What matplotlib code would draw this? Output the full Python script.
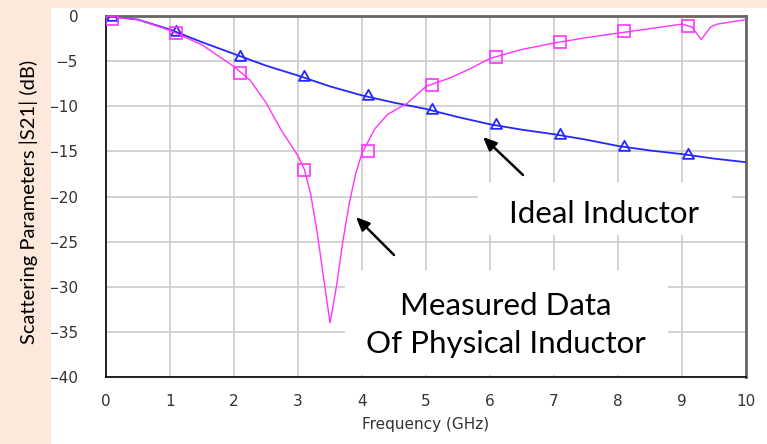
import matplotlib
matplotlib.use("Agg")
import matplotlib.pyplot as plt
from matplotlib.patches import Rectangle
from matplotlib.path import Path

W, H = 767, 444

# ── Data ──────────────────────────────────────────────────────────────────────
freq_ideal = [0, 0.5, 1.0, 1.5, 2.0, 2.5, 3.0, 3.5, 4.0, 4.5, 5.0,
              5.5, 6.0, 6.5, 7.0, 7.5, 8.0, 8.5, 9.0, 9.5, 10.0]
s21_ideal = [0, -0.4, -1.5, -2.9, -4.2, -5.5, -6.6, -7.8, -8.8, -9.6, -10.3,
             -11.2, -12.0, -12.6, -13.1, -13.7, -14.4, -14.9, -15.3, -15.8, -16.2]

freq_meas = [0, 0.5, 1.0, 1.5, 2.0, 2.25, 2.5, 2.75, 2.9, 3.0, 3.1, 3.2, 3.3,
             3.4, 3.5, 3.6, 3.7, 3.8, 3.9, 4.0, 4.2, 4.4, 4.7, 5.0, 5.4, 5.7,
             6.0, 6.5, 7.0, 7.5, 8.0, 8.5, 9.0, 9.15, 9.3, 9.45, 9.55, 10.0]
s21_meas = [0, -0.4, -1.6, -3.2, -5.6, -7.1, -9.6, -12.8, -14.4, -15.5, -17.0,
            -19.8, -24.0, -29.0, -34.0, -30.0, -25.0, -20.8, -17.5, -15.2,
            -12.5, -10.9, -9.7, -7.8, -6.8, -5.8, -4.7, -3.7, -3.0, -2.4,
            -1.9, -1.4, -0.9, -1.2, -2.6, -1.2, -0.9, -0.4]

mark_freq = [0.1, 1.1, 2.1, 3.1, 4.1, 5.1, 6.1, 7.1, 8.1, 9.1]
mark_ideal = [-0.1, -1.8, -4.5, -6.8, -8.9, -10.4, -12.1, -13.2, -14.5, -15.4]
mark_meas = [-0.3, -1.9, -6.3, -17.1, -15.0, -7.6, -4.5, -2.9, -1.7, -1.1]

xticks = list(range(0, 11))
yticks = list(range(0, -45, -5))

# ── Style ─────────────────────────────────────────────────────────────────────
PEACH = "#FCE9DC"
BLUE = "#2626FF"
MAGENTA = "#FF33FF"
GRID = "#CCCCCC"
TICKFONT = ["Liberation Sans Narrow", "DejaVu Sans"]
TEXTFONT = ["Lato", "DejaVu Sans"]


def fx(x, y):
    # pixel (top-left origin) -> figure fraction
    return (x / W, 1 - y / H)


fig = plt.figure(figsize=(W / 100, H / 100), dpi=100, facecolor="white")

# peach strips (left and top)
fig.patches.append(Rectangle((0, 0), 51 / W, 1, transform=fig.transFigure,
                             facecolor=PEACH, edgecolor="none", zorder=0))
fig.patches.append(Rectangle((0, 1 - 8 / H), 1, 8 / H, transform=fig.transFigure,
                             facecolor=PEACH, edgecolor="none", zorder=0))

ax = fig.add_axes([106 / W, 1 - 377 / H, 640 / W, 361 / H])
ax.set_facecolor("white")

# triangle marker with the data point at its centroid
tri = Path([(0, 2), (-1.65, -1), (1.65, -1), (0, 2)],
           [Path.MOVETO, Path.LINETO, Path.LINETO, Path.CLOSEPOLY])

ax.plot(freq_ideal, s21_ideal, color=BLUE, lw=1.3, zorder=3)
ax.plot(mark_freq, mark_ideal, ls="none", marker=tri, ms=9.6,
        mfc="none", mec=BLUE, mew=1.3, zorder=3)
ax.plot(freq_meas, s21_meas, color=MAGENTA, lw=1.0, zorder=3)
ax.plot(mark_freq, mark_meas, ls="none", marker="s", ms=8.4,
        mfc="none", mec=MAGENTA, mew=1.2, zorder=3)

ax.set_xlim(0, 10)
ax.set_ylim(-40, 0)
ax.set_xticks(xticks)
ax.set_yticks(yticks)
ax.grid(True, color=GRID, lw=1.2)
ax.set_axisbelow(True)
ax.tick_params(length=0, labelsize=11, pad=12, labelcolor="#333333")
for lab in ax.get_xticklabels() + ax.get_yticklabels():
    lab.set_family(TICKFONT)
ax.tick_params(axis="y", pad=20)

for s in ["left", "bottom"]:
    ax.spines[s].set_color("black")
    ax.spines[s].set_linewidth(1.2)
for s in ["top", "right"]:
    ax.spines[s].set_color("#666666")
    ax.spines[s].set_linewidth(2.0)

ax.set_xlabel("Frequency (GHz)", family=TICKFONT, fontsize=11, color="#333333",
              labelpad=6)

fig.text(*fx(29, 202), "Scattering Parameters |S21| (dB)", rotation=90,
         ha="center", va="center", fontsize=14.5, family=TEXTFONT)

# white label boxes covering the grid
for x0, y0, x1, y1 in [(478, 182, 732, 235), (345, 270, 668, 375)]:
    ax.add_patch(Rectangle(fx(x0, y1), (x1 - x0) / W, (y1 - y0) / H,
                           transform=fig.transFigure, facecolor="white",
                           edgecolor="none", zorder=1.5, clip_on=False))

fig.text(*fx(604, 214), "Ideal Inductor", ha="center", va="center",
         fontsize=22.5, family=TEXTFONT)
fig.text(*fx(506, 325), "Measured Data\nOf Physical Inductor", ha="center",
         va="center", fontsize=22.5, family=TEXTFONT, linespacing=1.45)

for tail, head in [((523, 175), (483, 137)), ((394, 255), (356, 217))]:
    ax.annotate("", xy=fx(*head), xytext=fx(*tail),
                xycoords="figure fraction", textcoords="figure fraction",
                arrowprops=dict(arrowstyle="-|>,head_length=0.8,head_width=0.35",
                                color="black", lw=1.8, shrinkA=0, shrinkB=0))

fig.savefig("out.png", dpi=100, facecolor="white")
